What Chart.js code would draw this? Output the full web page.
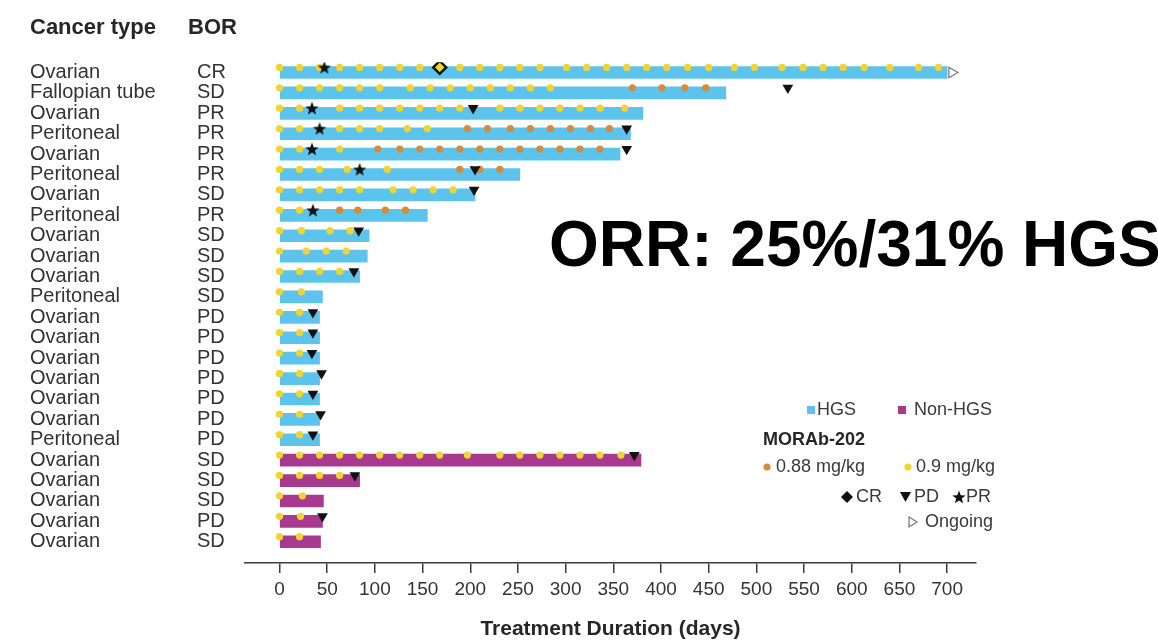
<!DOCTYPE html>
<html>
<head>
<meta charset="utf-8">
<title>MORAb-202 treatment duration</title>
<script src="https://cdn.jsdelivr.net/npm/chart.js@4/dist/chart.umd.min.js"></script>
<style>
  html, body { margin: 0; padding: 0; background: #ffffff; }
  #wrap { width: 1158px; height: 642px; }
</style>
</head>
<body>
<div id="wrap"><canvas id="swimmer" width="1158" height="642"></canvas></div>
<script>
// ---- patient rows, top to bottom ----
const cancerTypes = ['Ovarian', 'Fallopian tube', 'Ovarian', 'Peritoneal', 'Ovarian', 'Peritoneal',
  'Ovarian', 'Peritoneal', 'Ovarian', 'Ovarian', 'Ovarian', 'Peritoneal', 'Ovarian', 'Ovarian',
  'Ovarian', 'Ovarian', 'Ovarian', 'Ovarian', 'Peritoneal', 'Ovarian', 'Ovarian', 'Ovarian',
  'Ovarian', 'Ovarian'];
const bestResponse = ['CR', 'SD', 'PR', 'PR', 'PR', 'PR', 'SD', 'PR', 'SD', 'SD', 'SD', 'SD',
  'PD', 'PD', 'PD', 'PD', 'PD', 'PD', 'PD', 'SD', 'SD', 'SD', 'PD', 'SD'];
const histology = ['HGS', 'HGS', 'HGS', 'HGS', 'HGS', 'HGS', 'HGS', 'HGS', 'HGS', 'HGS', 'HGS',
  'HGS', 'HGS', 'HGS', 'HGS', 'HGS', 'HGS', 'HGS', 'HGS', 'Non-HGS', 'Non-HGS', 'Non-HGS',
  'Non-HGS', 'Non-HGS'];
const durationDays = [700, 468, 381, 368, 357, 252, 205, 155, 94, 92, 84, 45, 42, 42, 42, 42, 42,
  42, 42, 379, 84, 46, 45, 43];

// dosing days per row
const dose090Days = [
  [0, 21, 42, 63, 84, 105, 126, 147, 168, 189, 210, 231, 252, 273, 301, 322, 343, 364, 385, 406, 428, 450, 477, 498, 527, 549, 570, 591, 613, 640, 670, 691],
  [0, 21, 42, 63, 84, 105, 137, 158, 179, 200, 221, 242, 263, 284],
  [0, 21, 63, 84, 105, 126, 147, 168, 189, 231, 252, 273, 294, 315, 336, 362],
  [0, 21, 63, 84, 105, 134, 155],
  [0, 21, 63],
  [0, 21, 42, 71, 113],
  [0, 21, 42, 63, 84, 119, 140, 161, 182],
  [0, 21],
  [0, 23, 53, 74],
  [0, 28, 49, 70],
  [0, 21, 42, 63],
  [0, 23],
  [0, 21], [0, 21], [0, 21], [0, 21], [0, 21], [0, 21], [0, 21],
  [0, 21, 42, 63, 84, 105, 126, 147, 168, 197, 231, 252, 273, 294, 315, 336, 358],
  [0, 21, 42, 63],
  [0, 24],
  [0, 22],
  [0, 21]
];
const dose088Days = [
  [], [370, 401, 425, 447], [], [197, 218, 242, 263, 284, 305, 326, 346],
  [103, 126, 147, 168, 189, 210, 231, 252, 273, 294, 315, 336], [189, 210, 231], [],
  [63, 82, 111, 132], [], [], [], [], [], [], [], [], [], [], [], [], [], [], [], []
];

// response events (day, or null)
const pdDays = [null, 533, 203, 364, 364, 205, 204, null, 83, null, 78, null, 35, 35, 34, 44, 35,
  43, 35, 372, 79, null, 45, null];
const prDays = [47, null, 34, 42, 34, 84, null, 35, null, null, null, null, null, null, null, null,
  null, null, null, null, null, null, null, null];
const crDays = [168, null, null, null, null, null, null, null, null, null, null, null, null, null,
  null, null, null, null, null, null, null, null, null, null];
const ongoingDays = [705, null, null, null, null, null, null, null, null, null, null, null, null,
  null, null, null, null, null, null, null, null, null, null, null];

const xTicks = [0, 50, 100, 150, 200, 250, 300, 350, 400, 450, 500, 550, 600, 650, 700];

const headerType = 'Cancer type';
const headerBor = 'BOR';
const axisTitle = 'Treatment Duration (days)';
const orrText = 'ORR: 25%/31% HGS';

// ---- styling ----
const FONT = '"Liberation Sans", Arial, Helvetica, sans-serif';
const hgsColor = '#5CC4EC';
const nonHgsColor = '#A8398F';
const yellowDot = '#F1D432';
const orangeDot = '#D48B3C';
const markColor = '#111111';

Chart.defaults.font.family = FONT;

function makeStar(r, fill) {
  const s = Math.ceil(r * 2 + 2);
  const c = document.createElement('canvas');
  c.width = s; c.height = s;
  const g = c.getContext('2d');
  g.beginPath();
  for (let k = 0; k < 10; k++) {
    const rad = k % 2 ? r * 0.42 : r;
    const a = -Math.PI / 2 + k * Math.PI / 5;
    g.lineTo(s / 2 + rad * Math.cos(a), s / 2 + rad * Math.sin(a) + r * 0.08);
  }
  g.closePath();
  g.fillStyle = fill;
  g.fill();
  return c;
}
const starImg = makeStar(7, markColor);

function rowPoints(perRow) {
  const pts = [];
  perRow.forEach((days, row) => days.forEach(d => pts.push({ x: d, y: row })));
  return pts;
}
function eventPoints(list) {
  const pts = [];
  list.forEach((d, row) => { if (d !== null) pts.push({ x: d, y: row }); });
  return pts;
}
function barsFor(kind) {
  const pts = [];
  durationDays.forEach((d, row) => { if (histology[row] === kind) pts.push({ x: [0, d], y: row }); });
  return pts;
}

// ---- labels, header, summary and legend ----
const sideText = {
  id: 'sideText',
  afterDraw(chart) {
    const ctx = chart.ctx;
    const yScale = chart.scales.y;
    ctx.save();
    ctx.textAlign = 'left';
    ctx.textBaseline = 'middle';

    ctx.fillStyle = '#262626';
    ctx.font = 'bold 22px ' + FONT;
    ctx.fillText(headerType, 30, 28);
    ctx.fillText(headerBor, 188, 28);

    ctx.fillStyle = '#333333';
    ctx.font = '20px ' + FONT;
    cancerTypes.forEach((t, i) => {
      const py = yScale.getPixelForValue(i);
      ctx.fillText(t, 30, py);
      ctx.fillText(bestResponse[i], 197, py);
    });

    ctx.fillStyle = '#000000';
    ctx.font = 'bold 64px ' + FONT;
    ctx.textBaseline = 'alphabetic';
    ctx.fillText(orrText, 549, 266);

    // legend
    ctx.textBaseline = 'middle';
    ctx.font = '18px ' + FONT;
    ctx.fillStyle = hgsColor;
    ctx.fillRect(807, 406, 8, 8);
    ctx.fillStyle = nonHgsColor;
    ctx.fillRect(898, 406, 8, 8);
    ctx.fillStyle = '#3a3a3a';
    ctx.fillText('HGS', 817, 410);
    ctx.fillText('Non-HGS', 914, 410);

    ctx.fillStyle = '#262626';
    ctx.font = 'bold 18px ' + FONT;
    ctx.fillText('MORAb-202', 763, 440);

    ctx.font = '18px ' + FONT;
    ctx.fillStyle = orangeDot;
    ctx.beginPath(); ctx.arc(767, 467, 3.6, 0, Math.PI * 2); ctx.fill();
    ctx.fillStyle = yellowDot;
    ctx.beginPath(); ctx.arc(908, 467, 3.6, 0, Math.PI * 2); ctx.fill();
    ctx.fillStyle = '#3a3a3a';
    ctx.fillText('0.88 mg/kg', 776, 467);
    ctx.fillText('0.9 mg/kg', 916, 467);

    // CR diamond
    ctx.fillStyle = markColor;
    ctx.beginPath();
    ctx.moveTo(847, 491); ctx.lineTo(853, 497); ctx.lineTo(847, 503); ctx.lineTo(841, 497);
    ctx.closePath(); ctx.fill();
    // PD triangle
    ctx.beginPath();
    ctx.moveTo(900, 492); ctx.lineTo(911, 492); ctx.lineTo(905.5, 502);
    ctx.closePath(); ctx.fill();
    // PR star
    ctx.drawImage(starImg, 959 - starImg.width / 2, 497 - starImg.height / 2);
    ctx.fillStyle = '#3a3a3a';
    ctx.fillText('CR', 856, 497);
    ctx.fillText('PD', 914, 497);
    ctx.fillText('PR', 966, 497);

    // ongoing
    ctx.strokeStyle = '#777777';
    ctx.lineWidth = 1.2;
    ctx.beginPath();
    ctx.moveTo(909, 517); ctx.lineTo(917, 522); ctx.lineTo(909, 527);
    ctx.closePath(); ctx.stroke();
    ctx.fillText('Ongoing', 925, 522);
    ctx.restore();
  }
};

new Chart(document.getElementById('swimmer'), {
  type: 'bar',
  data: {
    datasets: [
      {
        type: 'scatter', label: 'PR', data: eventPoints(prDays), yAxisID: 'yDots',
        pointStyle: starImg, pointRadius: 7, order: 0
      },
      {
        type: 'scatter', label: 'PD', data: eventPoints(pdDays), yAxisID: 'yDots',
        pointStyle: 'triangle', rotation: 180, pointRadius: 6.2,
        backgroundColor: markColor, borderColor: markColor, borderWidth: 0, order: 0
      },
      {
        type: 'scatter', label: 'CR', data: eventPoints(crDays), yAxisID: 'yDots',
        pointStyle: 'rectRot', pointRadius: 6.5,
        backgroundColor: yellowDot, borderColor: markColor, borderWidth: 2.4, order: 0
      },
      {
        type: 'scatter', label: 'Ongoing', data: eventPoints(ongoingDays), yAxisID: 'y',
        pointStyle: 'triangle', rotation: 90, pointRadius: 6,
        backgroundColor: '#ffffff', borderColor: '#777777', borderWidth: 1.2, order: 0
      },
      {
        type: 'scatter', label: '0.9 mg/kg', data: rowPoints(dose090Days), yAxisID: 'yDots',
        pointStyle: 'circle', pointRadius: 3.6, backgroundColor: yellowDot, borderWidth: 0, order: 1
      },
      {
        type: 'scatter', label: '0.88 mg/kg', data: rowPoints(dose088Days), yAxisID: 'yDots',
        pointStyle: 'circle', pointRadius: 3.6, backgroundColor: orangeDot, borderWidth: 0, order: 1
      },
      {
        type: 'bar', label: 'HGS', data: barsFor('HGS'), yAxisID: 'y',
        backgroundColor: hgsColor, barThickness: 12, grouped: false, borderWidth: 0, order: 2
      },
      {
        type: 'bar', label: 'Non-HGS', data: barsFor('Non-HGS'), yAxisID: 'y',
        backgroundColor: nonHgsColor, barThickness: 12, grouped: false, borderWidth: 0, order: 2
      }
    ]
  },
  options: {
    responsive: false,
    animation: false,
    devicePixelRatio: 1,
    indexAxis: 'y',
    events: [],
    layout: { padding: { left: 245, right: 182, top: 62.3, bottom: 0 } },
    plugins: { legend: { display: false }, tooltip: { enabled: false } },
    scales: {
      x: {
        type: 'linear', position: 'bottom', min: -36.2, max: 730.3,
        afterBuildTicks: s => { s.ticks = xTicks.map(v => ({ value: v })); },
        afterFit: s => { s.height = 79; },
        grid: { drawOnChartArea: false, drawTicks: true, tickLength: 10, color: '#3c3c3c', lineWidth: 1.5 },
        border: { display: true, color: '#3c3c3c', width: 1.5 },
        ticks: { padding: 5, color: '#333333', font: { size: 19 }, maxRotation: 0, autoSkip: false },
        title: { display: true, text: axisTitle, color: '#262626', font: { size: 21, weight: 'bold' }, padding: 0 }
      },
      y: { type: 'linear', reverse: true, offset: false, min: -0.5, max: 24.04, display: false },
      yDots: { type: 'linear', reverse: true, offset: false, min: -0.25, max: 24.29, display: false }
    }
  },
  plugins: [sideText]
});
</script>
</body>
</html>
